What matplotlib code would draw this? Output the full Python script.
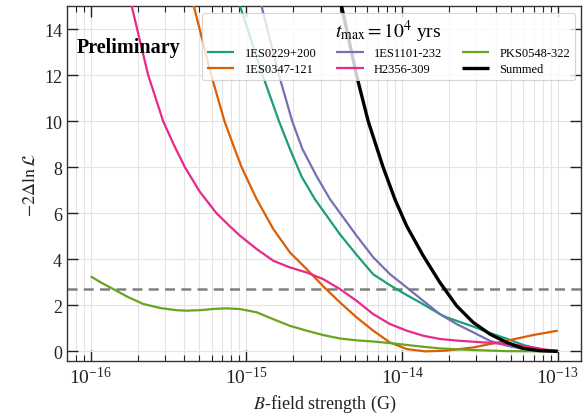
import numpy as np
import matplotlib
matplotlib.use("Agg")
import matplotlib.pyplot as plt

plt.rcParams['font.family'] = ['Liberation Serif', 'DejaVu Serif']
plt.rcParams['mathtext.fontset'] = 'stix'

# log10(B / G) and -2 Delta lnL values
green_lx = [-16.0, -15.93, -15.855, -15.76, -15.662, -15.55, -15.45, -15.383, -15.3, -15.2,
            -15.127, -15.041, -14.934, -14.827, -14.72, -14.613, -14.506, -14.399, -14.292, -14.185,
            -14.078, -13.97, -13.864, -13.757, -13.649, -13.543, -13.328, -13.0]
green_v = [3.26, 2.98, 2.71, 2.36, 2.06, 1.88, 1.79, 1.77, 1.79, 1.85,
           1.87, 1.84, 1.70, 1.40, 1.11, 0.90, 0.71, 0.56, 0.48, 0.43,
           0.36, 0.28, 0.20, 0.13, 0.09, 0.06, 0.01, 0.0]

orange_lx = [-15.36, -15.337, -15.225, -15.14, -15.075, -15.03, -14.934, -14.827, -14.72, -14.613,
             -14.506, -14.399, -14.292, -14.185, -14.078, -13.97, -13.85, -13.72, -13.543, -13.328,
             -13.157, -13.0]
orange_v = [15.6, 15.0, 12.0, 10.0, 8.8, 8.0, 6.62, 5.32, 4.30, 3.58,
            2.83, 2.13, 1.48, 0.90, 0.39, 0.10, 0.0, 0.03, 0.17, 0.46,
            0.71, 0.90]

magenta_lx = [-15.76, -15.736, -15.68, -15.63, -15.534, -15.46, -15.394, -15.30, -15.191, -15.10,
              -15.041, -14.934, -14.827, -14.72, -14.613, -14.506, -14.399, -14.292, -14.185, -14.078,
              -13.97, -13.864, -13.757, -13.65, -13.543, -13.43, -13.328, -13.24, -13.157, -13.08, -13.0]
magenta_v = [15.7, 15.0, 13.4, 12.0, 10.0, 8.9, 8.0, 6.95, 6.0, 5.4,
             5.03, 4.45, 3.94, 3.65, 3.43, 3.14, 2.71, 2.20, 1.62, 1.19,
             0.90, 0.68, 0.54, 0.47, 0.42, 0.37, 0.32, 0.26, 0.17, 0.08, 0.02]

teal_lx = [-15.06, -15.04, -14.895, -14.79, -14.72, -14.645, -14.56, -14.40, -14.292, -14.185,
           -14.078, -13.97, -13.864, -13.757, -13.714, -13.65, -13.543, -13.436, -13.328,
           -13.221, -13.114, -13.0]
teal_v = [15.4, 15.0, 12.0, 10.0, 8.8, 7.6, 6.62, 5.1, 4.2, 3.35,
          2.88, 2.45, 2.05, 1.62, 1.48, 1.33, 1.08, 0.80, 0.55,
          0.28, 0.08, 0.0]

purple_lx = [-14.92, -14.902, -14.79, -14.705, -14.64, -14.55, -14.463, -14.292, -14.185, -14.078,
             -13.97, -13.864, -13.757, -13.65, -13.543, -13.436, -13.328, -13.221, -13.114, -13.0]
purple_v = [15.5, 15.0, 12.0, 10.0, 8.8, 7.63, 6.62, 5.03, 4.09, 3.36,
            2.78, 2.20, 1.62, 1.19, 0.83, 0.46, 0.25, 0.10, 0.03, 0.0]

black_lx = [-14.40, -14.388, -14.292, -14.217, -14.121, -14.046, -13.97, -13.864, -13.757, -13.649,
            -13.543, -13.435, -13.328, -13.222, -13.114, -13.0]
black_v = [15.4, 15.0, 12.0, 10.0, 8.0, 6.62, 5.45, 4.16, 3.0, 1.98,
           1.26, 0.75, 0.39, 0.13, 0.03, 0.0]

threshold = 2.71
x_ticks = [1e-16, 1e-15, 1e-14, 1e-13]
y_ticks = [0, 2, 4, 6, 8, 10, 12, 14]

series = [
    ("1ES0229+200", teal_lx, teal_v, "#1b9e77", 1.6),
    ("1ES0347-121", orange_lx, orange_v, "#d95f02", 1.6),
    ("1ES1101-232", purple_lx, purple_v, "#7570b3", 1.6),
    ("H2356-309", magenta_lx, magenta_v, "#e7298a", 1.6),
    ("PKS0548-322", green_lx, green_v, "#66a61e", 1.6),
    ("Summed", black_lx, black_v, "black", 2.4),
]

fig = plt.figure(figsize=(5.84, 4.14), dpi=100)
ax = fig.add_axes([0.1147, 0.1244, 0.8810, 0.858])

for name, lx, v, c, lw in series:
    ax.plot(10.0 ** np.array(lx), v, color=c, lw=lw, label=name, zorder=3,
            solid_joinstyle='round', solid_capstyle='butt')

ax.axhline(threshold, color='#808080', ls=(0, (4, 2.5)), lw=1.8, zorder=2)

ax.set_xscale('log')
ax.set_xticks(x_ticks)
ax.set_xlim(10 ** -16.152, 10 ** -12.847)
ax.set_ylim(-0.44, 15.0)
ax.set_yticks(y_ticks)

ax.grid(True, which='major', color='#e3e3e3', lw=0.8, zorder=0)
ax.grid(True, which='minor', axis='x', color='#e3e3e3', lw=0.8, zorder=0)
ax.set_axisbelow(True)

ax.tick_params(which='both', direction='in', top=True, right=True, colors='#222222')
ax.tick_params(axis='x', which='major', labelsize=14)
ax.tick_params(axis='y', which='major', labelsize=13)
ax.tick_params(which='major', length=8, width=1)
ax.tick_params(which='minor', length=4, width=0.8)
ax.tick_params(axis='y', which='minor', left=False, right=False)
for s in ax.spines.values():
    s.set_color('#333333')
    s.set_linewidth(1.0)

ax.set_xlabel(r'$B$-field strength (G)', fontsize=13, color='#222222')
ax.set_ylabel(r'$-2\Delta\ln\mathcal{L}$', fontsize=13, color='#222222')

leg = ax.legend(loc='upper right', ncol=3, fontsize=9, title=r'$t_{\max} = 10^4$ yrs',
                title_fontsize=14, frameon=True, framealpha=0.8, edgecolor='#cccccc',
                handlelength=2.2, columnspacing=1.6, borderaxespad=0.5, labelspacing=0.3)
leg.get_frame().set_linewidth(0.8)

ax.text(0.019, 0.885, 'Preliminary', transform=ax.transAxes, fontsize=14.5,
        fontweight='bold', ha='left', va='center', zorder=5)

fig.savefig('out.png', dpi=100)
